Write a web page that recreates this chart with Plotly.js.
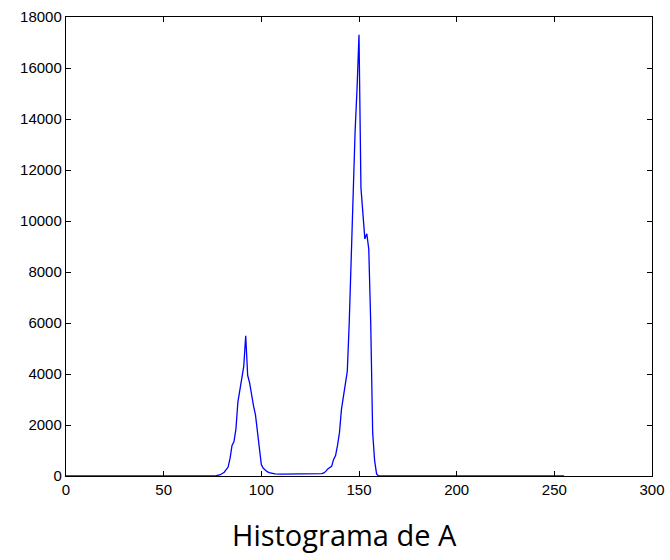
<!DOCTYPE html>
<html>
<head>
<meta charset="utf-8">
<script src="https://cdn.plot.ly/plotly-3.0.1.min.js"></script>
<style>
  html, body { margin: 0; padding: 0; background: #ffffff; }
  #chart { width: 670px; height: 560px; }
</style>
</head>
<body>
<div id="chart"></div>
<script>
// Intensity levels (histogram bins) and their counts
const intensity = [0, 76, 77, 78, 79, 80, 81, 82, 83, 84, 85, 86, 87, 88, 89, 90, 91, 92, 93, 94, 95, 96, 97, 98, 99, 100,
  101, 102, 103, 104, 105, 106, 107, 110, 115, 120, 125, 130, 131, 132, 133, 134, 135, 136, 137, 138, 139, 140,
  141, 142, 143, 144, 145, 146, 147, 148, 149, 150, 151, 152, 153, 154, 155, 156, 157, 158, 159, 160, 255];
const counts = [0, 0, 10, 30, 50, 100, 150, 250, 350, 700, 1200, 1350, 1850, 2900, 3400, 3950, 4300, 5500, 3950, 3650, 3100, 2750, 2400, 1750, 950, 450,
  300, 220, 170, 130, 110, 90, 80, 70, 70, 70, 70, 80, 90, 120, 180, 280, 320, 380, 650, 800, 1200, 1700,
  2600, 3100, 3500, 4100, 6000, 8400, 11500, 13500, 15200, 17300, 11300, 10200, 9300, 9500, 8900, 6000, 1700, 600, 80, 0, 0];

const xTicks = [0, 50, 100, 150, 200, 250, 300];
const yTicks = [0, 2000, 4000, 6000, 8000, 10000, 12000, 14000, 16000, 18000];
const chartTitle = 'Histograma de A';

const trace = {
  x: intensity,
  y: counts,
  type: 'scatter',
  mode: 'lines',
  line: { color: '#0000ff', width: 1.3 },
  hoverinfo: 'x+y'
};

const axisCommon = {
  showgrid: false,
  zeroline: false,
  showline: true,
  linecolor: '#000000',
  linewidth: 1.2,
  mirror: 'ticks',
  ticks: 'inside',
  ticklen: 5,
  tickwidth: 1,
  tickcolor: '#000000',
  tickfont: { family: 'Liberation Sans, Arial, sans-serif', size: 15, color: '#000000' }
};

const layout = {
  width: 670,
  height: 560,
  margin: { l: 66, r: 18, t: 17, b: 84 },
  paper_bgcolor: '#ffffff',
  plot_bgcolor: '#ffffff',
  showlegend: false,
  xaxis: Object.assign({}, axisCommon, {
    range: [0, 300],
    tickmode: 'array',
    tickvals: xTicks,
    ticktext: xTicks.map(String)
  }),
  yaxis: Object.assign({}, axisCommon, {
    range: [0, 18000],
    tickmode: 'array',
    tickvals: yTicks,
    ticktext: yTicks.map(String)
  }),
  annotations: [{
    text: chartTitle,
    xref: 'paper', yref: 'paper',
    x: 0.476, y: -0.1285,
    xanchor: 'center', yanchor: 'middle',
    showarrow: false,
    font: { family: 'Open Sans, Lato, sans-serif', size: 29, color: '#000000' }
  }]
};

Plotly.newPlot('chart', [trace], layout, { displayModeBar: false, staticPlot: true });
</script>
</body>
</html>
